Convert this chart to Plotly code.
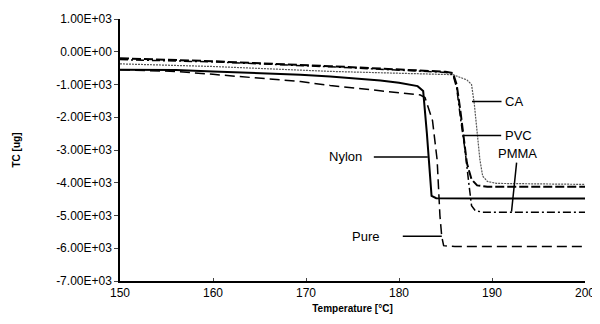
import plotly.graph_objects as go

# ---- data (Temperature [°C], TC [ug]) ----
nylon_t = [150, 156, 160, 165, 169.4, 172.6, 175, 178, 180, 182, 182.6, 183.0, 183.5, 184.0, 190, 200]
nylon_v = [-550, -560, -600, -650, -700, -755, -810, -880, -950, -1050, -1200, -2500, -4400, -4470, -4480, -4480]

pure_t = [150, 156, 160, 165, 169.4, 172.6, 175, 178, 180, 182.3, 182.8, 183.3, 183.6, 184.1, 184.4, 184.6, 184.8, 186, 200]
pure_v = [-550, -600, -690, -800, -910, -1030, -1100, -1180, -1250, -1320, -1400, -1800, -2100, -3300, -5000, -5650, -5920, -5950, -5950]

pvc_t = [150, 160, 172.6, 180, 185, 185.8, 186.2, 186.6, 186.9, 187.3, 187.8, 188.4, 189.5, 200]
pvc_v = [-200, -290, -440, -550, -610, -650, -1000, -1800, -2560, -3400, -3900, -4080, -4120, -4120]

pmma_t = [150, 160, 172.6, 180, 185, 185.8, 186.2, 186.6, 187.1, 187.5, 187.8, 188.2, 189, 200]
pmma_v = [-240, -310, -460, -570, -630, -700, -1100, -2000, -3000, -4000, -4700, -4850, -4900, -4900]

ca_t = [150, 160, 172.6, 180, 185.8, 187.3, 187.8, 188.1, 188.4, 188.7, 189.0, 189.5, 190.5, 200]
ca_v = [-370, -450, -600, -650, -700, -860, -1000, -1600, -2500, -3300, -3800, -3960, -4020, -4050]

y_ticks = [1000, 0, -1000, -2000, -3000, -4000, -5000, -6000, -7000]
y_tick_text = ["1.00E+03", "0.00E+00", "-1.00E+03", "-2.00E+03", "-3.00E+03",
               "-4.00E+03", "-5.00E+03", "-6.00E+03", "-7.00E+03"]
x_ticks = [150, 160, 170, 180, 190, 200]

# label: name, pointed temperature, pointed value, text offset (px)
labels = ["CA", "PVC", "PMMA", "Nylon", "Pure"]
label_t = [187.85, 186.9, 192.1, 183.1, 184.6]
label_v = [-1520, -2560, -4880, -3210, -5630]
label_ax = [42, 55, 6, -82, -76]
label_ay = [0, 0, -58, 0, 0]
label_startoff = [2, 2, 0, 10, 22]

FONT = "Liberation Sans, Arial, sans-serif"

fig = go.Figure()
fig.add_trace(go.Scatter(x=ca_t, y=ca_v, mode="lines", name="CA",
                         line=dict(color="#555555", width=1.2, dash="2px,1px")))
fig.add_trace(go.Scatter(x=pvc_t, y=pvc_v, mode="lines", name="PVC",
                         line=dict(color="black", width=2, dash="9px,3px")))
fig.add_trace(go.Scatter(x=pmma_t, y=pmma_v, mode="lines", name="PMMA",
                         line=dict(color="black", width=1.5, dash="8px,3px,2px,3px")))
fig.add_trace(go.Scatter(x=nylon_t, y=nylon_v, mode="lines", name="Nylon",
                         line=dict(color="black", width=2)))
fig.add_trace(go.Scatter(x=pure_t, y=pure_v, mode="lines", name="Pure",
                         line=dict(color="black", width=1.5, dash="10px,5px")))

for name, t, v, ax, ay, so in zip(labels, label_t, label_v, label_ax, label_ay, label_startoff):
    fig.add_annotation(x=t, y=v, xref="x", yref="y", text=name,
                       showarrow=True, arrowhead=0, arrowwidth=1.5, arrowcolor="black",
                       ax=ax, ay=ay, startstandoff=so,
                       font=dict(family=FONT, size=13, color="black"))

# page body adds an 8px offset, so the figure is 8px smaller than the window
fig.update_layout(
    width=592, height=316,
    margin=dict(l=112, r=15, t=11, b=43),
    paper_bgcolor="white", plot_bgcolor="white",
    showlegend=False,
    font=dict(family=FONT, size=12, color="black"),
)
fig.update_xaxes(range=[150, 200], tickvals=x_ticks, ticks="inside", ticklen=3,
                 showline=True, linecolor="black", linewidth=1.5, showgrid=False,
                 zeroline=False, tickfont=dict(size=12), automargin=False,
                 title=dict(text="<b>Temperature [°C]</b>", font=dict(size=10), standoff=6))
fig.update_yaxes(range=[-7000, 1000], tickvals=y_ticks, ticktext=y_tick_text,
                 ticks="outside", ticklen=4, showline=True, linecolor="black", linewidth=1.5,
                 showgrid=False, zeroline=False, tickfont=dict(size=12), automargin=False,
                 title=dict(text="<b>TC [ug]</b>", font=dict(size=10), standoff=34))

fig.write_html("out.html")
